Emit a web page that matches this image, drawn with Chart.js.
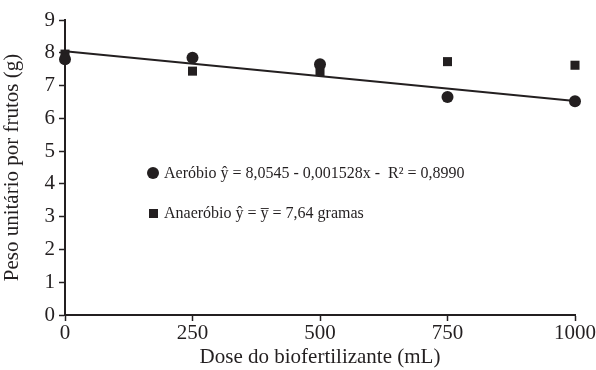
<!DOCTYPE html>
<html lang="pt">
<head>
    <meta charset="UTF-8">
    <script src="https://cdn.jsdelivr.net/npm/chart.js"></script>
    <title>Peso unitário por frutos</title>
    <style>
        body { margin: 0; background: #fff; }
    </style>
</head>
<body>
<canvas id="pesoChart" width="596" height="370"></canvas>

<script>
    // doses (mL)
    const doses = [0, 250, 500, 750, 1000];
    // peso unitário (g)
    const aerobio = [7.80, 7.85, 7.65, 6.65, 6.52];
    const anaerobio = [7.96, 7.44, 7.43, 7.73, 7.62];
    // reta ajustada do aeróbio, nas doses extremas
    const trendX = [0, 1000];
    const trendY = [8.05, 6.53];
    const yTicks = [0, 1, 2, 3, 4, 5, 6, 7, 8, 9];
    const xTicks = [0, 250, 500, 750, 1000];

    const serif = '"Liberation Serif", "Times New Roman", serif';

    // equações dentro do gráfico
    const equations = {
        id: 'equations',
        afterDraw(chart) {
            const ctx = chart.ctx;
            ctx.save();
            ctx.fillStyle = '#231f20';
            ctx.beginPath();
            ctx.arc(153, 173, 6, 0, Math.PI * 2);
            ctx.fill();
            ctx.fillRect(149, 209, 9, 9);
            ctx.font = '16px ' + serif;
            ctx.textBaseline = 'middle';
            ctx.fillText('Aeróbio ŷ = 8,0545 - 0,001528x -  R² = 0,8990', 164, 174);
            ctx.fillText('Anaeróbio ŷ = y̅ = 7,64 gramas', 164, 214);
            ctx.restore();
        }
    };

    const ctx = document.getElementById('pesoChart').getContext('2d');
    new Chart(ctx, {
        type: 'scatter',
        data: {
            datasets: [
                {
                    label: 'Ajuste',
                    type: 'line',
                    data: trendX.map((x, i) => ({x: x, y: trendY[i]})),
                    borderColor: '#231f20',
                    borderWidth: 2,
                    pointRadius: 0,
                    fill: false,
                    clip: false,
                    order: 3
                },
                {
                    label: 'Anaeróbio',
                    data: doses.map((x, i) => ({x: x, y: anaerobio[i]})),
                    pointStyle: 'rect',
                    pointRadius: 6.4,
                    backgroundColor: '#231f20',
                    borderColor: '#231f20',
                    borderWidth: 0,
                    clip: false,
                    order: 2
                },
                {
                    label: 'Aeróbio',
                    data: doses.map((x, i) => ({x: x, y: aerobio[i]})),
                    pointStyle: 'circle',
                    pointRadius: 6,
                    backgroundColor: '#231f20',
                    borderColor: '#231f20',
                    borderWidth: 0,
                    clip: false,
                    order: 1
                }
            ]
        },
        options: {
            responsive: false,
            animation: false,
            layout: { padding: { top: 20, bottom: 0, left: 0 } },
            plugins: {
                legend: { display: false },
                tooltip: { enabled: false }
            },
            scales: {
                x: {
                    type: 'linear',
                    min: 0,
                    max: 1000,
                    afterBuildTicks: s => { s.ticks = xTicks.map(v => ({value: v})); },
                    afterFit: s => { s.height = 55; },
                    border: { color: '#231f20', width: 2 },
                    grid: { drawOnChartArea: false, tickLength: 6, color: '#231f20', tickWidth: 1.5 },
                    ticks: {
                        color: '#231f20',
                        font: { family: serif, size: 21 },
                        padding: 0,
                        maxRotation: 0,
                        callback: v => String(v)
                    },
                    title: {
                        display: true,
                        text: 'Dose do biofertilizante (mL)',
                        color: '#231f20',
                        font: { family: serif, size: 21 },
                        padding: { top: 0, bottom: 0 }
                    }
                },
                y: {
                    min: 0,
                    max: 9,
                    afterBuildTicks: s => { s.ticks = yTicks.map(v => ({value: v})); },
                    afterFit: s => { s.width = 65; },
                    border: { color: '#231f20', width: 2 },
                    grid: { drawOnChartArea: false, tickLength: 6, color: '#231f20', tickWidth: 1.5 },
                    ticks: { color: '#231f20', font: { family: serif, size: 21 }, padding: 4 },
                    title: {
                        display: true,
                        text: 'Peso unitário por frutos (g)',
                        color: '#231f20',
                        font: { family: serif, size: 21 },
                        padding: { top: 0, bottom: 6 }
                    }
                }
            }
        },
        plugins: [equations]
    });
</script>
</body>
</html>
